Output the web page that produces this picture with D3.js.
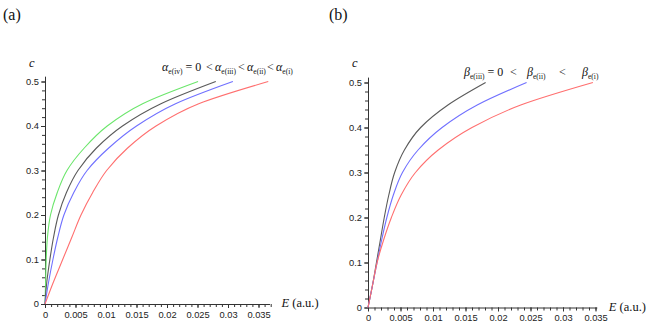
<!DOCTYPE html>
<html>
<head>
<meta charset="utf-8">
<script src="https://cdn.jsdelivr.net/npm/d3@7"></script>
<style>
body { margin: 0; background: #fff; }
</style>
</head>
<body>
<div id="chart"></div>
<script>
// c levels (y) shared by every curve, E values (x) per curve
var cLevels = [0, 0.05, 0.1, 0.15, 0.2, 0.25, 0.3, 0.35, 0.4, 0.45, 0.5];

// panel (a): alpha curves
var aGreen = [0, 0.0001, 0.0002, 0.0004, 0.0009, 0.0020, 0.0036, 0.0064, 0.0102, 0.0160, 0.0251];
var aBlack = [0, 0.0003, 0.0008, 0.0014, 0.0022, 0.0035, 0.0054, 0.0084, 0.0127, 0.0190, 0.0280];
var aBlue  = [0, 0.0006, 0.0013, 0.0021, 0.0031, 0.0047, 0.0069, 0.0104, 0.0150, 0.0214, 0.0308];
var aRed   = [0, 0.0014, 0.0029, 0.0044, 0.0059, 0.0078, 0.0101, 0.0135, 0.0182, 0.0252, 0.0366];

// panel (b): beta curves
var bBlack = [0, 0.0007, 0.0013, 0.0019, 0.0025, 0.0032, 0.0041, 0.0056, 0.0081, 0.0123, 0.0181];
var bBlue  = [0, 0.0007, 0.0014, 0.0021, 0.0029, 0.0039, 0.0053, 0.0077, 0.0114, 0.0168, 0.0244];
var bRed   = [0, 0.0007, 0.0014, 0.0024, 0.0036, 0.0051, 0.0073, 0.0108, 0.0160, 0.0235, 0.0346];

var xTicks = [0, 0.005, 0.01, 0.015, 0.02, 0.025, 0.03, 0.035];
var yTicks = [0, 0.1, 0.2, 0.3, 0.4, 0.5];

var colGreen = "#6be66b", colBlack = "#5a5a5a", colBlue = "#7070ff", colRed = "#ff6f6f";
var sansFont = "'Liberation Sans', Arial, sans-serif";
var serifFont = "'Liberation Serif', 'Times New Roman', serif";

var svg = d3.select("#chart")
  .append("svg")
    .attr("width", 650)
    .attr("height", 327);

function drawPanel(p) {
  var x = d3.scaleLinear().domain([0, p.xMax]).range([p.left, p.right]);
  var y = d3.scaleLinear().domain([0, 0.512]).range([p.bottom, p.top]);

  var minorX = d3.range(0, Math.round(p.xMax * 1000) + 1).map(function(i) { return i / 1000; });
  var minorY = d3.range(0, 26).map(function(i) { return i / 50; });

  var g = svg.append("g");

  // minor ticks
  g.append("g")
    .attr("transform", "translate(0," + p.bottom + ")")
    .call(d3.axisBottom(x).tickValues(minorX).tickSize(3).tickSizeOuter(0).tickFormat(""))
    .call(function(a) { a.select(".domain").remove(); });
  g.append("g")
    .attr("transform", "translate(" + p.left + ",0)")
    .call(d3.axisLeft(y).tickValues(minorY).tickSize(3).tickSizeOuter(0).tickFormat(""))
    .call(function(a) { a.select(".domain").remove(); });

  // major ticks + labels
  g.append("g")
    .attr("transform", "translate(0," + p.bottom + ")")
    .call(d3.axisBottom(x).tickValues(xTicks).tickSize(4).tickSizeOuter(0)
      .tickFormat(function(d) { return String(+d.toFixed(3)); }));
  g.append("g")
    .attr("transform", "translate(" + p.left + ",0)")
    .call(d3.axisLeft(y).tickValues(yTicks).tickSize(4).tickPadding(2).tickSizeOuter(0)
      .tickFormat(function(d) { return String(+d.toFixed(1)); }));

  g.selectAll(".domain, .tick line").attr("stroke", "#333");
  g.selectAll(".tick text")
    .style("font-family", sansFont)
    .style("font-size", "9.3px")
    .attr("fill", "#222");

  var line = d3.line()
    .x(function(d) { return x(d[0]); })
    .y(function(d) { return y(d[1]); })
    .curve(d3.curveMonotoneY);

  p.series.forEach(function(s) {
    g.append("path")
      .datum(s.values.map(function(v, i) { return [v, cLevels[i]]; }))
      .attr("fill", "none")
      .attr("stroke", s.color)
      .attr("stroke-width", 1.1)
      .attr("d", line);
  });

  // panel letter, axis names
  g.append("text").attr("x", p.letterX).attr("y", 20)
    .style("font-family", serifFont).style("font-size", "16px").attr("fill", "#111")
    .text(p.letter);
  g.append("text").attr("x", p.left - 16).attr("y", 67)
    .style("font-family", serifFont).style("font-size", "12.5px").style("font-style", "italic")
    .attr("fill", "#111").text("c");
  var el = g.append("text").attr("x", p.right + 12).attr("y", p.bottom + 3)
    .style("font-family", serifFont).style("font-size", "12.5px").attr("fill", "#111");
  el.append("tspan").style("font-style", "italic").text("E");
  el.append("tspan").text(" (a.u.)");

  // legend text
  p.legend.forEach(function(item) {
    var t = g.append("text").attr("x", item.x).attr("y", p.legendY)
      .style("font-family", serifFont).style("font-size", "12px").attr("fill", "#111");
    if (item.sym) {
      t.append("tspan").style("font-style", "italic").text(item.sym);
      t.append("tspan").attr("dy", 2.5).style("font-size", "7.5px").text(item.sub);
      if (item.rest) t.append("tspan").attr("dy", -2.5).text(item.rest);
    } else {
      t.text(item.rest);
    }
  });
}

drawPanel({
  left: 45, right: 45 + 0.0368 * 6100, bottom: 304, top: 304 - 0.512 * 445,
  xMax: 0.0368, letter: "(a)", letterX: 3, legendY: 71,
  series: [
    {values: aGreen, color: colGreen},
    {values: aBlack, color: colBlack},
    {values: aBlue, color: colBlue},
    {values: aRed, color: colRed}
  ],
  legend: [
    {x: 162, sym: "α", sub: "e(iv)", rest: " = 0"},
    {x: 206, rest: "<"},
    {x: 215, sym: "α", sub: "e(iii)"},
    {x: 238, rest: "<"},
    {x: 247, sym: "α", sub: "e(ii)"},
    {x: 267, rest: "<"},
    {x: 276, sym: "α", sub: "e(i)"}
  ]
});

drawPanel({
  left: 368, right: 368 + 0.0352 * 6500, bottom: 307.5, top: 307.5 - 0.512 * 450,
  xMax: 0.0352, letter: "(b)", letterX: 329, legendY: 76,
  series: [
    {values: bBlack, color: colBlack},
    {values: bBlue, color: colBlue},
    {values: bRed, color: colRed}
  ],
  legend: [
    {x: 464, sym: "β", sub: "e(iii)", rest: " = 0"},
    {x: 510, rest: "<"},
    {x: 527, sym: "β", sub: "e(ii)"},
    {x: 559, rest: "<"},
    {x: 582, sym: "β", sub: "e(i)"}
  ]
});
</script>
</body>
</html>
